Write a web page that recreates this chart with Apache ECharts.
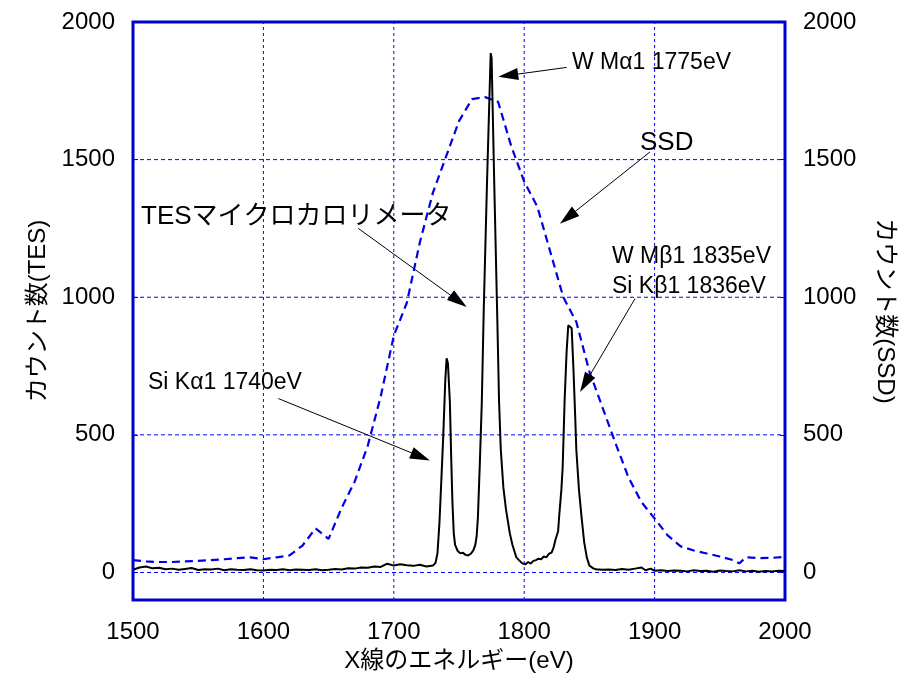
<!DOCTYPE html>
<html>
<head>
<meta charset="utf-8">
<script src="https://cdn.jsdelivr.net/npm/echarts@6/dist/echarts.min.js"></script>
<style>
  html, body { margin: 0; padding: 0; background: #fff; }
  #main { width: 900px; height: 679px; }
</style>
</head>
<body>
<div id="main"></div>
<script>
  // TES spectrum (energy eV, counts)
  var tesEnergy = [
    1500, 1505, 1510, 1515, 1520, 1525, 1530, 1535, 1540, 1545, 1550, 1555, 1560, 1565, 1570, 1575,
    1580, 1585, 1590, 1595, 1600, 1605, 1610, 1615, 1620, 1625, 1630, 1635, 1640, 1645, 1650, 1655,
    1660, 1665, 1670, 1675, 1680, 1685, 1690, 1695, 1700, 1705, 1710, 1715, 1720, 1725, 1730,
    1732, 1733.5, 1735, 1736.5, 1738, 1739.5, 1740.5, 1741.5, 1743, 1744, 1745, 1746, 1747, 1749,
    1751, 1753, 1755, 1757, 1759, 1761, 1762.5, 1763.5, 1764.5, 1766, 1767.5, 1769, 1771.5, 1774.3,
    1775, 1777, 1779.4, 1780.7, 1782, 1784, 1786, 1789, 1791, 1794, 1796, 1798.5, 1801, 1803, 1805,
    1807, 1809, 1811, 1813, 1815, 1817, 1819, 1821, 1822.5, 1824, 1826, 1827, 1828.5, 1829.5, 1831,
    1832.5, 1833.8, 1835, 1836.4, 1837.7, 1839, 1840, 1842, 1844, 1846, 1848, 1850, 1853,
    1855, 1860, 1865, 1870, 1875, 1880, 1885, 1890, 1893, 1897, 1900, 1905, 1910, 1915, 1920, 1925,
    1930, 1935, 1940, 1945, 1950, 1955, 1960, 1965, 1970, 1975, 1980, 1985, 1990, 1995, 2000
  ];
  var tesCounts = [
    10, 18, 22, 15, 17, 12, 14, 10, 13, 16, 9, 12, 11, 14, 8, 12,
    10, 9, 12, 8, 7, 10, 9, 12, 8, 11, 10, 9, 12, 8, 10, 13,
    11, 15, 14, 18, 17, 22, 20, 32, 25, 30, 26, 24, 28, 22, 25,
    35, 70, 180, 340, 505, 700, 778, 760, 620, 420, 250, 142, 100, 78,
    70, 72, 64, 62, 68, 80, 100, 130, 200, 400, 620, 960, 1420, 1887,
    1870, 1420, 916, 625, 450, 310, 230, 142, 100, 55, 45, 33, 30, 38, 32,
    42, 45, 50, 48, 58, 55, 68, 72, 90, 120, 150, 215, 300, 383, 625,
    800, 898, 900, 887, 747, 580, 444, 300, 200, 110, 55, 25, 15,
    12, 10, 11, 9, 13, 10, 14, 18, 8, 14, 6, 8, 5, 7, 6, 4,
    8, 5, 6, 3, 7, 5, 4, 8, 4, 6, 3, 5, 4, 6, 5
  ];

  // SSD spectrum (energy eV, counts)
  var ssdEnergy = [
    1500, 1510, 1520, 1530, 1540, 1550, 1560, 1570, 1580, 1590, 1600, 1610, 1620, 1630, 1640, 1650,
    1660, 1670, 1680, 1690, 1700, 1710, 1720, 1730, 1740, 1750, 1760, 1770, 1780, 1790, 1800, 1810,
    1820, 1830, 1840, 1850, 1860, 1870, 1880, 1890, 1900, 1910, 1920, 1930, 1940, 1950, 1960, 1965,
    1970, 1980, 1990, 2000
  ];
  var ssdCounts = [
    45, 40, 38, 38, 40, 42, 45, 48, 52, 55, 48, 55, 62, 98, 160, 122,
    235, 330, 460, 640, 860, 980, 1200, 1380, 1510, 1640, 1720, 1727, 1710, 1550, 1420, 1330,
    1165, 1000, 910, 730, 600, 470, 345, 255, 196, 135, 95, 80, 69, 58, 45, 33,
    55, 52, 53, 57
  ];

  var yTicks = [0, 500, 1000, 1500, 2000];
  var xGridValues = [1600, 1700, 1800, 1900];
  var yGridValues = [0, 500, 1000, 1500];

  function zip(xs, ys) {
    return xs.map(function (x, i) { return [x, ys[i]]; });
  }

  var FONT = "'Liberation Sans', 'Noto Sans CJK JP', sans-serif";
  var BLUE = '#0000cc';
  var GRIDBLUE = '#0000ff';

  var chart = echarts.init(document.getElementById('main'));

  function plain(v) { return String(v); }

  function yAxisCfg(pos, name, rot, gap) {
    return {
      type: 'value',
      position: pos,
      min: -100,
      max: 2000,
      name: name,
      nameLocation: 'middle',
      nameGap: gap,
      nameRotate: rot,
      nameTextStyle: { color: '#000', fontSize: 24, fontFamily: FONT },
      axisLine: { show: false },
      axisTick: { show: true, inside: true, length: 5, customValues: yTicks, lineStyle: { color: BLUE, width: 1 } },
      axisLabel: { customValues: yTicks, formatter: plain, color: '#000', fontSize: 24, fontFamily: FONT, margin: 18 },
      splitLine: { show: false }
    };
  }

  function arrowText(text, x, y, size) {
    return {
      type: 'text', x: x, y: y, z: 100,
      style: { text: text, fill: '#000', fontSize: size, fontFamily: FONT, verticalAlign: 'middle' }
    };
  }

  // grid lines drawn as plain line series
  function gridSeries(points, dash) {
    return {
      type: 'line',
      data: points,
      symbol: 'none',
      silent: true,
      z: 1,
      lineStyle: { color: GRIDBLUE, width: 1, type: dash }
    };
  }

  var series = [];
  xGridValues.forEach(function (x) {
    series.push(gridSeries([[x, -100], [x, 2000]], [3, 3]));
  });
  yGridValues.forEach(function (y) {
    series.push(gridSeries([[1500, y], [2000, y]], [4, 3]));
  });

  series.push({
    name: 'SSD',
    type: 'line',
    yAxisIndex: 1,
    data: zip(ssdEnergy, ssdCounts),
    symbol: 'none',
    z: 3,
    lineStyle: { color: '#0000e6', width: 2.2, type: [8, 5] }
  });

  series.push({
    name: 'TES',
    type: 'line',
    data: zip(tesEnergy, tesCounts),
    symbol: 'none',
    z: 4,
    lineStyle: { color: '#000', width: 2 },
    markLine: {
      silent: true,
      symbol: ['none', 'triangle'],
      symbolSize: [12, 20],
      label: { show: false },
      lineStyle: { color: '#000', type: 'solid', width: 1 },
      itemStyle: { color: '#000' },
      emphasis: { disabled: true },
      data: [
        [{ coord: [1832.6, 1835] }, { coord: [1787.7, 1806] }],
        [{ coord: [1896.5, 1528] }, { coord: [1833.4, 1290] }],
        [{ coord: [1672.8, 1250] }, { coord: [1749.7, 986] }],
        [{ coord: [1885, 995] }, { coord: [1846.7, 687] }],
        [{ coord: [1611.4, 632] }, { coord: [1720.6, 421] }]
      ]
    }
  });

  chart.setOption({
    animation: false,
    grid: {
      left: 133, right: 115, top: 22, bottom: 79,
      containLabel: false,
      outerBoundsMode: 'none',
      show: true, borderColor: BLUE, borderWidth: 3, backgroundColor: 'transparent'
    },
    xAxis: {
      type: 'value',
      min: 1500, max: 2000, interval: 100,
      name: 'X線のエネルギー(eV)',
      nameLocation: 'middle',
      nameGap: 48,
      nameTextStyle: { color: '#000', fontSize: 24, fontFamily: FONT },
      axisLine: { show: false },
      axisTick: { show: false },
      axisLabel: { formatter: plain, color: '#000', fontSize: 24, fontFamily: FONT, margin: 20 },
      splitLine: { show: false }
    },
    yAxis: [
      yAxisCfg('left', 'カウント数(TES)', 90, 81),
      yAxisCfg('right', 'カウント数(SSD)', -90, 88)
    ],
    series: series,
    graphic: [
      arrowText('W Mα1 1775eV', 572, 63, 23),
      arrowText('SSD', 640, 143, 26),
      arrowText('TESマイクロカロリメータ', 141, 217, 26),
      arrowText('W Mβ1 1835eV', 612, 257, 23),
      arrowText('Si Kβ1 1836eV', 612, 287, 23),
      arrowText('Si Kα1 1740eV', 148, 383, 23)
    ]
  });
</script>
</body>
</html>
